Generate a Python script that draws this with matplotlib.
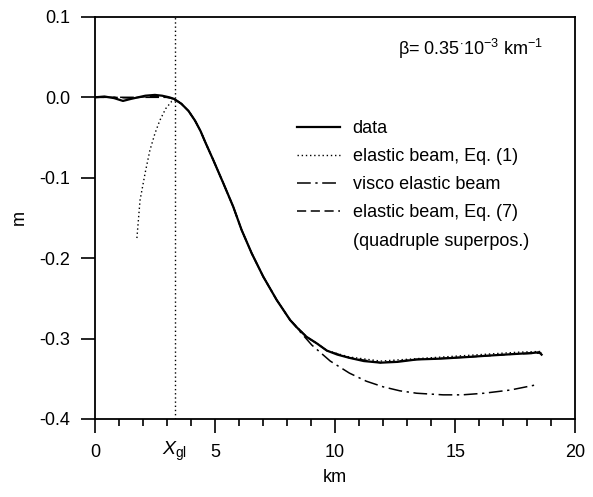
import numpy as np
import matplotlib.pyplot as plt
from matplotlib.lines import Line2D
from matplotlib.ticker import MultipleLocator

plt.rcParams['font.family'] = ['Liberation Sans', 'DejaVu Sans']
plt.rcParams['mathtext.fontset'] = 'custom'
plt.rcParams['mathtext.rm'] = 'Liberation Sans'
plt.rcParams['mathtext.it'] = 'Liberation Sans:italic'
plt.rcParams['font.size'] = 13

# measured profile (km, m)
x_data = [0.0, 0.4, 0.8, 1.17, 1.5, 1.8, 2.1, 2.5, 2.8, 3.1, 3.3, 3.6, 3.9, 4.17, 4.4,
          4.6, 4.93, 5.35, 5.76, 6.11, 6.53, 7.01, 7.57, 8.13, 8.5, 8.82, 9.24, 9.66,
          10.1, 10.6, 11.2, 11.9, 12.6, 13.4, 14.4, 15.5, 16.5, 17.6, 18.2, 18.5, 18.6]
m_data = [0.0, 0.001, -0.001, -0.0045, -0.002, 0.0, 0.002, 0.003, 0.002, 0.0, -0.002,
          -0.008, -0.017, -0.029, -0.042, -0.056, -0.078, -0.107, -0.136, -0.165, -0.194,
          -0.223, -0.252, -0.277, -0.289, -0.298, -0.306, -0.315, -0.320, -0.324, -0.328,
          -0.330, -0.329, -0.326, -0.325, -0.323, -0.321, -0.319, -0.318, -0.317, -0.320]

# elastic beam, Eq. (1)
x_el1 = [1.75, 1.88, 2.1, 2.29, 2.5, 2.7, 2.95, 3.2, 3.4, 3.6, 3.9, 4.17, 4.4, 4.6, 4.93,
         5.35, 5.76, 6.11, 6.53, 7.01, 7.57, 8.13, 8.82, 9.24, 9.66, 10.6, 11.9, 13.4,
         15.5, 17.6, 18.6]
m_el1 = [-0.175, -0.128, -0.093, -0.066, -0.045, -0.029, -0.014, -0.005, -0.004, -0.008,
         -0.017, -0.029, -0.042, -0.056, -0.078, -0.107, -0.136, -0.165, -0.194, -0.223,
         -0.252, -0.277, -0.298, -0.306, -0.315, -0.323, -0.328, -0.325, -0.321, -0.317,
         -0.316]

# visco elastic beam
x_visco = [0.0, 1.0, 2.0, 3.0, 3.3, 3.6, 3.9, 4.17, 4.4, 4.6, 4.93, 5.35, 5.76, 6.11,
           6.53, 7.01, 7.57, 8.13, 8.5, 9.03, 9.8, 10.6, 11.3, 12.0, 12.7, 13.4, 14.5,
           15.3, 16.2, 17.3, 18.3]
m_visco = [0.0, 0.0, 0.0, 0.0, -0.002, -0.008, -0.017, -0.029, -0.042, -0.056, -0.078,
           -0.107, -0.136, -0.165, -0.194, -0.223, -0.252, -0.277, -0.290, -0.308, -0.328,
           -0.343, -0.353, -0.360, -0.365, -0.368, -0.370, -0.370, -0.368, -0.364, -0.358]

# elastic beam, Eq. (7), quadruple superposition
x_el7 = [0.0, 0.8, 1.5, 2.2, 2.8, 3.3, 3.6, 3.9, 4.17, 4.4, 4.6, 4.93, 5.35, 5.76, 6.11,
         6.53, 7.01, 7.57, 8.13, 8.82, 9.24, 9.66, 10.6, 11.9, 13.4, 15.5, 17.6, 18.6]
m_el7 = [0.0, 0.0, -0.001, 0.001, 0.001, -0.002, -0.008, -0.017, -0.029, -0.042, -0.056,
         -0.078, -0.107, -0.136, -0.165, -0.194, -0.223, -0.252, -0.277, -0.298, -0.306,
         -0.315, -0.324, -0.330, -0.326, -0.323, -0.319, -0.318]

x_gl = 3.33

fig = plt.figure(figsize=(5.93, 4.97), dpi=100)
ax = fig.add_axes([0.160, 0.157, 0.810, 0.809])

ax.plot(x_data, m_data, color='black', lw=1.6, ls='-', label='data')
ax.plot(x_el1, m_el1, color='black', lw=1.0, ls=(0, (1, 2)), label='elastic beam, Eq. (1)')
ax.plot(x_visco, m_visco, color='black', lw=1.1, ls=(0, (9, 3, 1.5, 3)), label='visco elastic beam')
ax.plot(x_el7, m_el7, color='black', lw=1.1, ls=(0, (6, 3)), label='elastic beam, Eq. (7)')
ax.axvline(x_gl, color='black', lw=1.0, ls=(0, (1, 2)))

ax.set_xlim(0, 20)
ax.set_ylim(-0.4, 0.1)
ax.xaxis.set_major_locator(MultipleLocator(5))
ax.xaxis.set_minor_locator(MultipleLocator(1))
ax.yaxis.set_major_locator(MultipleLocator(0.1))
ax.set_yticks(ax.get_yticks())
ax.set_yticklabels(['%.1f' % v for v in ax.get_yticks()])
ax.set_ylim(-0.4, 0.1)
ax.tick_params(which='major', direction='out', length=10, width=1.2, labelsize=13, pad=8)
ax.tick_params(which='minor', direction='out', length=5, width=1.2)
for s in ax.spines.values():
    s.set_linewidth(1.3)

ax.text(x_gl, -0.052, r'$X_{\mathrm{gl}}$', transform=ax.get_xaxis_transform(),
        ha='center', va='top', fontsize=14)

ax.set_xlabel('km', fontsize=13, labelpad=6)
ax.set_ylabel('m', fontsize=13, labelpad=8)

ax.text(0.631, 0.905, 'β= 0.35$^{\\cdot}$10$^{-3}$ km$^{-1}$', transform=ax.transAxes,
        ha='left', va='baseline', fontsize=13)

handles, labels = ax.get_legend_handles_labels()
handles.append(Line2D([], [], color='none'))
labels.append('(quadruple superpos.)')
ax.legend(handles, labels, loc='upper left', bbox_to_anchor=(0.421, 0.744), frameon=False,
          borderpad=0, borderaxespad=0, handlelength=2.4, handletextpad=0.67,
          labelspacing=0.62, fontsize=13)

plt.savefig('out.png', dpi=100)
